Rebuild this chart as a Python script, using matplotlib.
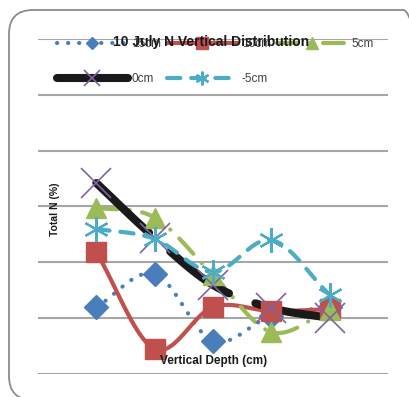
import numpy as np
import matplotlib.pyplot as plt
from matplotlib.patches import FancyBboxPatch
from matplotlib.lines import Line2D

# ------------------------------------------ DATA ------------------------------------------------------------#
depth_pos = [1, 2, 3, 4, 5]
labels = ['15cm', '10cm', '5cm', '0cm', '-5cm']
n_15 = [0.060, 0.0896, 0.0296, 0.052, 0.060]
n_10 = [0.109, 0.0224, 0.060, 0.0564, 0.058]
n_5 = [0.149, 0.140, 0.0887, 0.0376, 0.0573]
n_0 = [0.171, 0.122, 0.0797, 0.0591, 0.0502]
n_m5 = [0.130, 0.121, 0.0914, 0.120, 0.0708]


# ------------------------------------------ DEFINE FUNCTIONS ------------------------------------------------#
def smooth(x, y, n=20):
    # catmull-rom curve through the points, like excel "smoothed line"
    x = np.asarray(x, float)
    y = np.asarray(y, float)
    px = np.concatenate([[2 * x[0] - x[1]], x, [2 * x[-1] - x[-2]]])
    py = np.concatenate([[2 * y[0] - y[1]], y, [2 * y[-1] - y[-2]]])
    xs, ys = [], []
    t = np.linspace(0, 1, n, endpoint=False)
    for i in range(1, len(px) - 2):
        for p, out in ((px, xs), (py, ys)):
            p0, p1, p2, p3 = p[i - 1], p[i], p[i + 1], p[i + 2]
            out.extend(0.5 * (2 * p1 + (-p0 + p2) * t + (2 * p0 - 5 * p1 + 4 * p2 - p3) * t ** 2
                              + (-p0 + 3 * p1 - 3 * p2 + p3) * t ** 3))
    xs.append(x[-1])
    ys.append(y[-1])
    return xs, ys


# ------------------------------------------ PLOT ------------------------------------------------------------#
plt.rcParams['font.family'] = ['Liberation Sans', 'DejaVu Sans']

fig = plt.figure(figsize=(4.10, 3.97), dpi=100)
fig.patch.set_facecolor('white')
ax = fig.add_axes([0.0927, 0.058, 0.8537, 0.8438])

asterisk = (6, 2, 0)
series = [
    (n_15, '#4a7ebb', dict(ls=(0, (0.05, 2.6)), lw=3.0), dict(marker='D', ms=12, mfc='#4a7ebb', mec='#4a7ebb')),
    (n_10, '#c0504d', dict(ls='-', lw=3.0), dict(marker='s', ms=15, mfc='#c0504d', mec='#c0504d')),
    (n_5, '#9bbb59', dict(ls=(0, (5, 3, 0.05, 3)), lw=3.0), dict(marker='^', ms=15, mfc='#9bbb59', mec='#9bbb59')),
    (n_0, '#1a1a1a', dict(ls=(0, (9, 3.5)), lw=5.8), dict(marker='x', ms=22, mfc='none', mec='#8064a2', mew=1.2)),
    (n_m5, '#4bacc6', dict(ls=(0, (3.2, 2.6)), lw=3.0), dict(marker=asterisk, ms=18, mfc='none', mec='#4bacc6', mew=1.6)),
]

handles = []
for vals, col, lkw, mkw in series:
    sx, sy = smooth(depth_pos, vals)
    ax.plot(sx, sy, color=col, solid_capstyle='round', dash_capstyle='round', zorder=3, **lkw)
    ax.plot(depth_pos, vals, ls='none', zorder=4, **mkw)
    hk = dict(mkw)
    hk['ms'] = mkw['ms'] * 0.55
    handles.append(Line2D([], [], color=col, solid_capstyle='round', dash_capstyle='round', **lkw, **hk))

ax.set_xlim(0, 6)
ax.set_ylim(0, 0.3)
ax.set_yticks(np.arange(0, 0.31, 0.05))
ax.set_xticks([])
ax.grid(True, axis='y', color='#a6a6a6', linewidth=1.5)
ax.tick_params(axis='y', length=0, labelleft=False)
for sp in ax.spines.values():
    sp.set_visible(False)
ax.set_axisbelow(True)
ax.set_facecolor('none')

# axis titles sit inside the plot area like in the excel chart
fig.text(0.134, 0.474, 'Total N (%)', rotation=90, ha='center', va='center',
         fontsize=7.5, fontweight='bold', color='#1a1a1a')
fig.text(0.52, 0.091, 'Vertical Depth (cm)', ha='center', va='center',
         fontsize=8.5, fontweight='bold', color='#1a1a1a', zorder=10)

# legend, row order 15, 10, 5 / 0, -5
order = [0, 3, 1, 4, 2]
leg = fig.legend([handles[i] for i in order], [labels[i] for i in order], ncol=3,
                 loc='upper left', bbox_to_anchor=(0.113, 0.93), frameon=False,
                 fontsize=8.5, handlelength=6.0, columnspacing=0.5, handletextpad=0.35,
                 labelspacing=1.9, labelcolor='#404040')

fig.text(0.515, 0.893, '10 July N Vertical Distribution', ha='center', va='center',
         fontsize=10, fontweight='bold', color='#1a1a1a', zorder=10)

# rounded chart frame
frame = FancyBboxPatch((0.09, -0.03), 4.18, 3.90, boxstyle='round,pad=0,rounding_size=0.24',
                       transform=fig.dpi_scale_trans, facecolor='none', edgecolor='#8c8c8c',
                       linewidth=1.3)
fig.patches.append(frame)

plt.savefig('out.png', dpi=100)
